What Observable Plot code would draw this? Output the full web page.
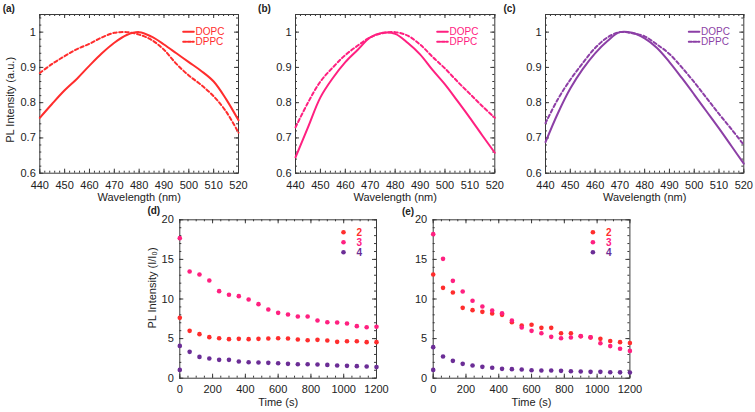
<!DOCTYPE html>
<html><head><meta charset="utf-8">
<script src="https://cdn.jsdelivr.net/npm/d3@7"></script>
<script src="https://cdn.jsdelivr.net/npm/@observablehq/plot@0.6"></script>
<style>
body{margin:0;background:#fff;}
#chart{position:relative;width:755px;height:412px;overflow:hidden;}
#chart svg{position:absolute;left:0;top:0;}
</style></head><body><div id="chart"></div>
<script>
// ---------- data ----------
const wavelengths = [440,445,450,455,460,465,470,475,480,485,490,495,500,505,510,515,520];
const aDOPC = [0.757,0.797,0.835,0.868,0.905,0.94,0.97,0.992,1.0,0.987,0.965,0.94,0.915,0.89,0.86,0.81,0.75];
const aDPPC = [0.884,0.91,0.932,0.952,0.967,0.985,0.998,1.0,0.993,0.978,0.95,0.91,0.877,0.85,0.818,0.775,0.715];
const bDOPC = [0.645,0.73,0.815,0.87,0.915,0.95,0.985,0.998,0.995,0.97,0.937,0.893,0.852,0.805,0.757,0.707,0.658];
const bDPPC = [0.73,0.8,0.86,0.9,0.935,0.962,0.985,0.997,1.0,0.99,0.965,0.93,0.897,0.86,0.825,0.79,0.757];
const cDOPC = [0.688,0.77,0.84,0.895,0.94,0.975,1.0,0.998,0.982,0.955,0.915,0.87,0.823,0.775,0.727,0.677,0.627];
const cDPPC = [0.742,0.81,0.865,0.912,0.955,0.985,1.0,0.997,0.988,0.965,0.938,0.9,0.858,0.813,0.768,0.725,0.68];

const times = [0,60,120,180,240,300,360,420,480,540,600,660,720,780,840,900,960,1020,1080,1140,1200];
const times4 = [0, ...times]; // series 4 also has an initial I/I0 = 1 point
const d2 = [7.62,5.98,5.56,5.18,5.05,4.93,4.97,4.93,4.97,5.01,5.05,5.01,4.88,4.8,4.84,4.76,4.59,4.67,4.67,4.55,4.55];
const d3s = [17.68,13.47,13.09,12.34,10.99,10.53,10.36,9.94,9.35,8.67,8.25,8.04,7.79,7.79,7.28,7.07,7.03,6.91,6.57,6.44,6.5];
const d4 = [1.05,4.08,3.33,2.69,2.48,2.32,2.32,2.1,2.02,1.98,1.94,1.89,1.81,1.77,1.77,1.73,1.68,1.6,1.56,1.52,1.47,1.4];
const e2 = [13.09,11.41,10.82,8.88,8.59,8.38,8.17,8.0,7.07,6.65,6.74,6.36,6.36,5.68,5.68,5.3,5.15,4.97,4.7,4.55,4.45];
const e3 = [18.19,15.07,12.29,10.95,9.77,9.05,8.55,8.21,7.28,6.4,5.98,5.68,5.22,5.05,5.14,5.31,5.16,4.42,4.05,3.72,3.45];
const e4 = [1.05,3.92,2.74,2.19,1.81,1.6,1.43,1.31,1.18,1.14,1.09,1.01,0.97,0.97,0.93,0.88,0.84,0.8,0.8,0.76,0.74,0.72];

const wlTicks = [440,450,460,470,480,490,500,510,520];
const intensityTicks = [0.6,0.7,0.8,0.9,1];
const timeTicks = [0,200,400,600,800,1000,1200];
const ratioTicks = [0,5,10,15,20];
const seriesNames = ["2","3","4"];
const lipidNames = ["DOPC","DPPC"];

// ---------- styling ----------
const W = 755, H = 412;
const font = "'Liberation Sans', Arial, Helvetica, sans-serif";
const ink = "#222";
const frameColor = "#3a3a3a";
const RED = "#ff2d2d", PINK = "#ff2080", PURPLE_L = "#8c3fa6", PURPLE = "#6b2d96";
const DASH = "3.5,2.5";
const fmt = d3.format("~g");
const lineShape = {draw(ctx, l) { ctx.moveTo(0, 0); ctx.lineTo(0, -l); }};
const C = {textAnchor: "middle", lineAnchor: "middle"};

function frameTicks(xMajor, xMinor, yMajor, yMinor, fw, fh) {
  const s = {stroke: frameColor, strokeWidth: 1};
  const id = d => d;
  return [
    Plot.ruleX(xMinor, {x: id, insetTop: fh - 2, ...s}),
    Plot.ruleX(xMinor, {x: id, insetBottom: fh - 2, ...s}),
    Plot.ruleX(xMajor, {x: id, insetTop: fh - 4, ...s}),
    Plot.ruleX(xMajor, {x: id, insetBottom: fh - 4, ...s}),
    Plot.ruleY(yMinor, {y: id, insetRight: fw - 2, ...s}),
    Plot.ruleY(yMinor, {y: id, insetLeft: fw - 2, ...s}),
    Plot.ruleY(yMajor, {y: id, insetRight: fw - 4, ...s}),
    Plot.ruleY(yMajor, {y: id, insetLeft: fw - 4, ...s})
  ];
}

function spectrum({left, right, tag, tagDx, solid, dashed, color, ylabel, legDx}) {
  const top = 14, bottom = 172.7;
  const fw = right - left, fh = bottom - top;
  const rowsS = wavelengths.map((w, i) => ({w, v: solid[i]}));
  const rowsD = wavelengths.map((w, i) => ({w, v: dashed[i]}));
  const legY = [17.3, 27.3];
  const marks = [
    ...frameTicks(wlTicks, d3.range(440, 521, 2), intensityTicks, d3.range(0.6, 1.045, 0.02), fw, fh),
    Plot.frame({stroke: frameColor}),
    Plot.line(rowsD, {x: "w", y: "v", stroke: color, strokeWidth: 2, strokeDasharray: DASH, curve: "catmull-rom"}),
    Plot.line(rowsS, {x: "w", y: "v", stroke: color, strokeWidth: 2, curve: "catmull-rom"}),
    Plot.axisX(wlTicks, {anchor: "bottom", tickSize: 0, tickPadding: 8, label: null, tickFormat: fmt, fill: ink, fontSize: 11}),
    Plot.axisY(intensityTicks, {anchor: "left", tickSize: 0, tickPadding: 4, label: null, tickFormat: fmt, fill: ink, fontSize: 11}),
    Plot.text(["Wavelength (nm)"], {text: d => d, frameAnchor: "bottom", dy: 24.5, fill: ink, fontSize: 11, ...C}),
    Plot.text([tag], {text: d => d, frameAnchor: "top-left", dx: tagDx, dy: -6, fontWeight: "bold", fontSize: 10, fill: ink, ...C}),
    Plot.vector([0], {frameAnchor: "top-right", dx: legDx, dy: legY[0], length: 10.6, rotate: 90, anchor: "start", shape: lineShape, stroke: color, strokeWidth: 2}),
    Plot.vector([0], {frameAnchor: "top-right", dx: legDx, dy: legY[1], length: 10.6, rotate: 90, anchor: "start", shape: lineShape, stroke: color, strokeWidth: 2, strokeDasharray: "3,1.6"}),
    Plot.text([lipidNames[0]], {text: d => d, frameAnchor: "top-right", dx: legDx + 12.3, dy: legY[0], textAnchor: "start", lineAnchor: "middle", fill: color, fontSize: 10}),
    Plot.text([lipidNames[1]], {text: d => d, frameAnchor: "top-right", dx: legDx + 12.3, dy: legY[1], textAnchor: "start", lineAnchor: "middle", fill: color, fontSize: 10})
  ];
  if (ylabel) marks.push(Plot.text([ylabel], {text: d => d, frameAnchor: "left", rotate: -90, dx: -29.3, dy: 6, fill: ink, fontSize: 11, ...C}));
  return Plot.plot({
    width: W, height: H,
    marginLeft: left, marginRight: W - right, marginTop: top, marginBottom: H - bottom,
    style: {fontFamily: font, fontSize: "11px", background: "transparent", overflow: "visible", color: ink},
    x: {domain: [440, 520], label: null},
    y: {domain: [0.6, 1.05], label: null},
    marks
  });
}

function kinetics({left, right, tag, tagDx, tagDy, s2, s3, s4, ylabel, legDx}) {
  const top = 219.3, bottom = 377.7;
  const fw = right - left, fh = bottom - top;
  const r2 = times.map((t, i) => ({t, v: s2[i]}));
  const r3 = times.map((t, i) => ({t, v: s3[i]}));
  const r4 = times4.map((t, i) => ({t, v: s4[i]}));
  const dotR = 2.3;
  const marks = [
    ...frameTicks(timeTicks, d3.range(0, 1201, 50), ratioTicks, d3.range(0, 21, 1), fw, fh),
    Plot.frame({stroke: frameColor}),
    Plot.dot(r2, {x: "t", y: "v", r: dotR, fill: RED}),
    Plot.dot(r3, {x: "t", y: "v", r: dotR, fill: PINK}),
    Plot.dot(r4, {x: "t", y: "v", r: dotR, fill: PURPLE}),
    Plot.axisX(timeTicks, {anchor: "bottom", tickSize: 0, tickPadding: 6.5, label: null, tickFormat: fmt, fill: ink, fontSize: 11}),
    Plot.axisY(ratioTicks, {anchor: "left", tickSize: 0, tickPadding: 6, label: null, tickFormat: fmt, fill: ink, fontSize: 11}),
    Plot.text(["Time (s)"], {text: d => d, frameAnchor: "bottom", dy: 24, fill: ink, fontSize: 11, ...C}),
    Plot.text([tag], {text: d => d, frameAnchor: "top-left", dx: tagDx, dy: tagDy, fontWeight: "bold", fontSize: 10, fill: ink, ...C})
  ];
  const legColors = [RED, PINK, PURPLE];
  const legDy = [12.5, 22.5, 32.5];
  seriesNames.forEach((name, i) => {
    marks.push(Plot.dot([0], {frameAnchor: "top-right", dx: legDx, dy: legDy[i], r: dotR, fill: legColors[i]}));
    marks.push(Plot.text([name], {text: d => d, frameAnchor: "top-right", dx: legDx + 13, dy: legDy[i], textAnchor: "start", lineAnchor: "middle", fill: legColors[i], fontWeight: "bold", fontSize: 10}));
  });
  if (ylabel) marks.push(Plot.text([ylabel], {text: d => d, frameAnchor: "left", rotate: -90, dx: -27.6, dy: -11, fill: ink, fontSize: 11, ...C}));
  return Plot.plot({
    width: W, height: H,
    marginLeft: left, marginRight: W - right, marginTop: top, marginBottom: H - bottom,
    style: {fontFamily: font, fontSize: "11px", background: "transparent", overflow: "visible", color: ink},
    x: {domain: [0, 1200], label: null},
    y: {domain: [0, 20], label: null},
    marks
  });
}

const chart = document.getElementById("chart");
chart.append(
  spectrum({left: 39.3, right: 238, tag: "(a)", tagDx: -31, solid: aDOPC, dashed: aDPPC, color: RED, ylabel: "PL Intensity (a.u.)", legDx: -55.3}),
  spectrum({left: 295, right: 494.3, tag: "(b)", tagDx: -31, solid: bDOPC, dashed: bDPPC, color: PINK, legDx: -57.6}),
  spectrum({left: 545, right: 743.3, tag: "(c)", tagDx: -36, solid: cDOPC, dashed: cDPPC, color: PURPLE_L, legDx: -55}),
  kinetics({left: 179.3, right: 376, tag: "(d)", tagDx: -26, tagDy: -9.3, s2: d2, s3: d3s, s4: d4, ylabel: "PL Intensity (I/I\u2080)", legDx: -33}),
  kinetics({left: 432.7, right: 629.4, tag: "(e)", tagDx: -25.2, tagDy: -8.3, s2: e2, s3: e3, s4: e4, legDx: -37})
);
</script></body></html>
